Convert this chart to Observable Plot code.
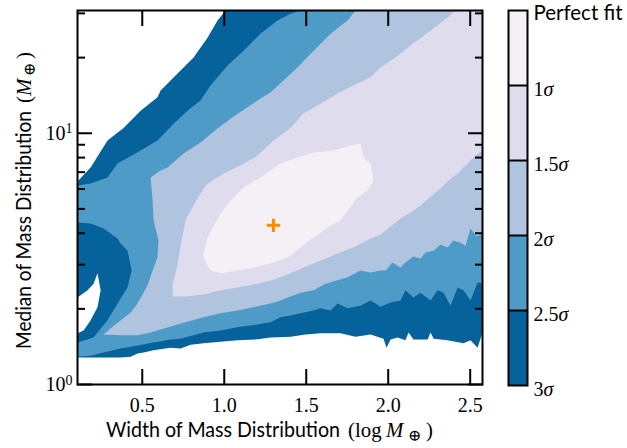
<!DOCTYPE html>
<html><head><meta charset="utf-8">
<script src="https://cdn.jsdelivr.net/npm/d3@7"></script>
<script src="https://cdn.jsdelivr.net/npm/@observablehq/plot@0.6"></script>
<style>
body{margin:0;background:#fff;}
#wrap{position:relative;width:627px;height:448px;overflow:hidden;background:#fff;}
#wrap svg{position:absolute;top:0;}
</style></head><body><div id="wrap"></div>
<script>
// ---- data ----
const xTicks = [0.5, 1.0, 1.5, 2.0, 2.5];
const yMajorTicks = [1, 10];
const yMinorTicks = [2, 3, 4, 5, 6, 7, 8, 9, 20, 30];
const levelLabels = ["3σ", "2.5σ", "2σ", "1.5σ", "1σ", "Perfect fit"];
const levelColors = ["#05629b", "#4f9bc7", "#b0c4df", "#dfdded", "#f5eff6"];
const bestFit = [[1.3, 4.3]];

// contour regions (width, median) – outermost first
const region3sigma = [[0.105,6.42],[0.185,7.30],[0.288,9.35],[0.386,10.5],[0.490,12.3],[0.593,13.9],[0.612,14.8],[0.715,17.3],[0.813,20.0],[0.898,24.0],[0.959,28.1],[1.008,30.8],[2.575,30.8],[2.575,1.61],[2.545,1.40],[2.502,1.50],[2.459,1.46],[2.410,1.48],[2.362,1.50],[2.319,1.51],[2.277,1.52],[2.258,1.61],[2.240,1.51],[2.154,1.51],[2.124,1.61],[2.105,1.50],[2.057,1.54],[2.014,1.51],[1.990,1.40],[1.971,1.52],[1.892,1.58],[1.801,1.55],[1.709,1.60],[1.587,1.60],[1.496,1.58],[1.404,1.55],[1.282,1.54],[1.191,1.51],[1.081,1.50],[0.977,1.48],[0.874,1.46],[0.795,1.44],[0.734,1.39],[0.673,1.40],[0.569,1.37],[0.508,1.34],[0.471,1.33],[0.429,1.29],[0.368,1.28],[0.105,1.28],[0.105,1.60],[0.142,1.64],[0.185,1.80],[0.227,2.03],[0.246,2.37],[0.227,2.77],[0.203,2.52],[0.166,2.37],[0.105,2.22]];
const region2p5sigma = [[0.105,6.19],[0.185,6.31],[0.288,6.66],[0.349,7.58],[0.490,8.53],[0.593,9.35],[0.691,10.9],[0.776,12.3],[0.855,13.5],[0.916,15.5],[1.020,18.6],[1.118,21.3],[1.221,24.9],[1.325,28.1],[1.404,29.9],[1.465,30.8],[2.575,30.8],[2.575,2.52],[2.545,2.55],[2.502,2.16],[2.459,2.37],[2.423,2.43],[2.380,2.06],[2.337,2.32],[2.301,2.37],[2.258,2.16],[2.197,2.32],[2.154,2.22],[2.105,2.37],[2.075,2.16],[2.014,2.12],[1.953,2.04],[1.892,2.16],[1.831,2.06],[1.752,2.01],[1.691,2.10],[1.648,1.97],[1.587,2.01],[1.545,1.97],[1.465,1.92],[1.404,1.88],[1.343,1.85],[1.282,1.77],[1.191,1.73],[1.081,1.69],[0.977,1.64],[0.874,1.61],[0.734,1.52],[0.673,1.51],[0.569,1.47],[0.471,1.43],[0.368,1.39],[0.264,1.34],[0.185,1.30],[0.105,1.29],[0.105,1.47],[0.203,1.54],[0.288,1.80],[0.349,2.10],[0.410,2.43],[0.435,2.84],[0.410,3.41],[0.368,3.64],[0.349,3.81],[0.307,3.99],[0.264,4.18],[0.185,4.37],[0.105,4.41]];
const region2sigma = [[0.551,6.66],[0.612,7.10],[0.654,7.30],[0.752,8.30],[0.855,9.18],[0.959,10.44],[1.057,11.65],[1.142,12.7],[1.221,13.74],[1.282,14.52],[1.343,15.8],[1.447,18.3],[1.545,21.3],[1.648,24.9],[1.752,28.1],[1.801,30.8],[2.575,30.8],[2.575,3.99],[2.538,3.88],[2.502,4.18],[2.471,3.57],[2.441,3.67],[2.398,3.74],[2.362,3.51],[2.319,3.61],[2.276,3.41],[2.227,3.35],[2.197,3.17],[2.154,3.23],[2.105,3.06],[2.075,2.92],[2.026,3.06],[1.984,2.84],[1.953,2.84],[1.892,2.79],[1.831,2.84],[1.752,2.67],[1.679,2.59],[1.618,2.52],[1.545,2.37],[1.465,2.32],[1.404,2.24],[1.343,2.16],[1.282,2.10],[1.191,2.04],[1.081,1.97],[0.977,1.92],[0.874,1.85],[0.764,1.77],[0.673,1.70],[0.551,1.61],[0.471,1.57],[0.368,1.57],[0.264,1.58],[0.307,1.67],[0.368,1.80],[0.429,1.93],[0.471,2.10],[0.532,2.48],[0.563,2.84],[0.593,3.20],[0.599,3.74],[0.569,4.49],[0.563,5.40]];
const region1p5sigma = [[0.685,2.24],[0.685,2.52],[0.715,2.98],[0.734,3.57],[0.764,4.49],[0.795,4.92],[0.837,5.50],[0.886,6.19],[0.947,6.60],[1.008,6.98],[1.099,7.44],[1.203,8.15],[1.301,9.35],[1.404,10.5],[1.484,12.0],[1.587,13.1],[1.691,14.4],[1.788,15.5],[1.892,16.7],[1.953,18.3],[2.045,20.0],[2.154,22.8],[2.258,25.6],[2.362,28.9],[2.410,30.8],[2.575,30.8],[2.575,8.53],[2.532,8.15],[2.502,7.79],[2.453,7.24],[2.423,6.91],[2.368,6.48],[2.319,6.03],[2.258,5.60],[2.197,5.16],[2.136,4.84],[2.075,4.58],[2.014,4.25],[1.953,3.95],[1.892,3.81],[1.801,3.54],[1.691,3.32],[1.587,3.11],[1.484,2.92],[1.386,2.74],[1.282,2.59],[1.179,2.50],[1.081,2.43],[0.977,2.37],[0.874,2.28],[0.764,2.24]];
const region1sigma = [[0.874,3.32],[0.898,3.85],[0.977,4.79],[1.057,5.55],[1.118,6.08],[1.221,6.66],[1.343,7.58],[1.447,8.00],[1.545,8.38],[1.667,8.53],[1.770,8.94],[1.831,9.10],[1.849,8.00],[1.892,7.58],[1.910,6.48],[1.874,5.92],[1.813,5.55],[1.752,4.92],[1.709,4.49],[1.630,4.21],[1.545,3.85],[1.465,3.51],[1.386,3.20],[1.282,3.03],[1.179,2.92],[1.081,2.84],[0.977,2.77],[0.916,2.84],[0.874,3.20]];
const regions = [region3sigma, region2p5sigma, region2sigma, region1p5sigma, region1sigma];

// ---- styles ----
const SERIF = "'Liberation Serif', 'DejaVu Serif', serif";
const SANS = "Lato, 'Open Sans', sans-serif";
const TITLE_SIZE = 20.8;

const main = Plot.plot({
  width: 500, height: 448,
  marginLeft: 77, marginRight: 18, marginTop: 10, marginBottom: 64,
  style: {fontFamily: SERIF, fontSize: "20px", color: "black", background: "transparent"},
  x: {domain: [0.105, 2.575]},
  y: {type: "log", domain: [1, 30.8]},
  marks: [
    ...regions.map((r, i) => Plot.line(r, {fill: levelColors[i], stroke: "none", curve: "linear"})),
    Plot.dot(bestFit, {symbol: "plus", r: 4.4, stroke: "#ff8c00", strokeWidth: 3}),
    Plot.frame({stroke: "black", strokeWidth: 2}),
    Plot.axisX(xTicks, {anchor: "bottom", tickSize: -15, tickPadding: 28, strokeWidth: 2, tickFormat: d3.format(".1f"), label: null}),
    Plot.axisX(xTicks, {anchor: "top", tickSize: -15, strokeWidth: 2, tickFormat: () => "", label: null}),
    Plot.axisY(yMajorTicks, {anchor: "left", tickSize: -15, tickPadding: 20, strokeWidth: 2, tickFormat: d => "10^" + Math.round(Math.log10(d)), label: null}),
    Plot.axisY(yMinorTicks, {anchor: "left", tickSize: -8, strokeWidth: 2, tickFormat: () => "", label: null}),
    Plot.axisY(yMajorTicks, {anchor: "right", tickSize: -15, strokeWidth: 2, tickFormat: () => "", label: null}),
    Plot.axisY(yMinorTicks, {anchor: "right", tickSize: -8, strokeWidth: 2, tickFormat: () => "", label: null})
  ]
});
main.style.left = "0px";
document.getElementById("wrap").appendChild(main);

// superscript powers of ten
d3.select(main).selectAll('g[aria-label="y-axis tick label"] text').each(function () {
  const t = this.textContent;
  if (!t.includes("^")) return;
  const [b, e] = t.split("^");
  const s = d3.select(this);
  s.text(null);
  s.append("tspan").text(b);
  s.append("tspan").attr("dy", "-0.45em").attr("font-size", "14px").text(e);
});

// axis titles
const msvg = d3.select(main);
msvg.append("text").attr("x", 106).attr("y", 437).attr("text-anchor", "start").attr("font-family", SANS).attr("font-size", TITLE_SIZE)
  .attr("textLength", 234).attr("lengthAdjust", "spacingAndGlyphs").attr("fill", "black")
  .text("Width of Mass Distribution");
const xm = msvg.append("text").attr("y", 437).attr("text-anchor", "start").attr("font-family", SERIF).attr("font-size", TITLE_SIZE).attr("fill", "black");
xm.append("tspan").attr("x", 348).text("(");
xm.append("tspan").attr("x", 355).text("log");
xm.append("tspan").attr("x", 386).attr("font-style", "italic").text("M");
xm.append("tspan").attr("x", 408).attr("dy", 4).attr("font-size", 16).text("⊕");
xm.append("tspan").attr("x", 426).attr("dy", -4).text(")");

const yg = msvg.append("g").attr("transform", "translate(31,197) rotate(-90)");
yg.append("text").attr("x", -152).attr("y", 0).attr("text-anchor", "start").attr("font-family", SANS).attr("font-size", TITLE_SIZE)
  .attr("textLength", 238).attr("lengthAdjust", "spacingAndGlyphs").attr("fill", "black")
  .text("Median of Mass Distribution");
const ym = yg.append("text").attr("y", 0).attr("text-anchor", "start").attr("font-family", SERIF).attr("font-size", TITLE_SIZE).attr("fill", "black");
ym.append("tspan").attr("x", 94).text("(");
ym.append("tspan").attr("x", 101).attr("font-style", "italic").text("M");
ym.append("tspan").attr("x", 121).attr("dy", 4).attr("font-size", 16).text("⊕");
ym.append("tspan").attr("x", 138).attr("dy", -4).text(")");

// colorbar
const cbData = levelColors.map((c, i) => ({lo: i, hi: i + 1, color: c}));
const sigmaLabels = levelLabels.slice(0, 5);
const cb = Plot.plot({
  width: 127, height: 448,
  marginLeft: 8, marginRight: 100, marginTop: 10, marginBottom: 63,
  style: {fontFamily: SERIF, fontSize: "20px", color: "black", background: "transparent", overflow: "visible"},
  x: {domain: [0, 1], axis: null},
  y: {domain: [0, 5], axis: null},
  color: {type: "identity"},
  marks: [
    Plot.rect(cbData, {x1: 0, x2: 1, y1: "lo", y2: "hi", fill: "color"}),
    Plot.ruleY([1, 2, 3, 4], {x1: 0, x2: 1, stroke: "black", strokeWidth: 2}),
    Plot.frame({stroke: "black", strokeWidth: 2}),
    Plot.text(sigmaLabels, {x: 1, y: (d, i) => i, text: d => d, dx: 6, dy: 4, textAnchor: "start", fontSize: 20, fontFamily: SERIF}),
    Plot.text([levelLabels[5]], {x: 1, y: 5, text: d => d, dx: 6, dy: 3, textAnchor: "start", fontSize: TITLE_SIZE, fontFamily: SANS})
  ]
});
cb.style.left = "500px";
document.getElementById("wrap").appendChild(cb);

d3.select(cb).selectAll("text").each(function () {
  const t = this.textContent;
  if (t === "Perfect fit") {
    this.setAttribute("textLength", 89);
    this.setAttribute("lengthAdjust", "spacingAndGlyphs");
    return;
  }
  if (!t.endsWith("σ")) return;
  const s = d3.select(this);
  s.text(null);
  s.append("tspan").text(t.slice(0, -1));
  s.append("tspan").attr("font-style", "italic").text("σ");
});
</script></body></html>
